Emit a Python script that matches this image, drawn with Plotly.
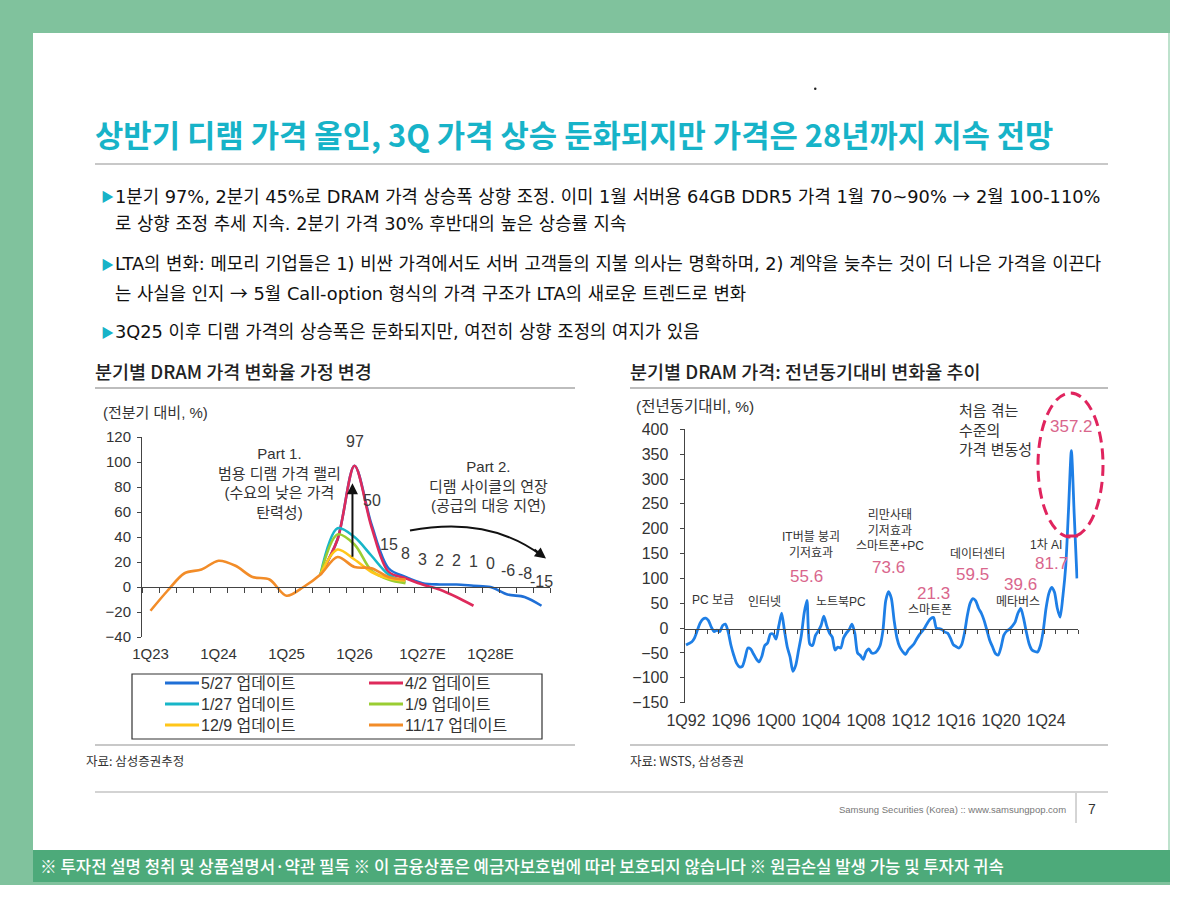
import plotly.graph_objects as go

W, H = 1200, 898
def fx(p): return p / W
def fy(p): return 1 - p / H

# ---------------- data: left chart (QoQ %) ----------------
left_quarters = ["1Q23", "2Q23", "3Q23", "4Q23", "1Q24", "2Q24", "3Q24", "4Q24",
                 "1Q25", "2Q25", "3Q25", "4Q25", "1Q26", "2Q26", "3Q26", "4Q26",
                 "1Q27E", "2Q27E", "3Q27E", "4Q27E", "1Q28E", "2Q28E", "3Q28E", "4Q28E"]
left_tick_labels = ["1Q23", "1Q24", "1Q25", "1Q26", "1Q27E", "1Q28E"]
N = None
upd_0527 = [N]*10 + [10, 38, 97, 50, 15, 8, 3, 2, 2, 1, 0, -6, -8, -15]
upd_0402 = [N]*10 + [10, 38, 97, 48, 12, 7, 2, -2, -8, -15] + [N]*4
upd_0127 = [N]*10 + [10, 47, 40, 25, 10, 4] + [N]*8
upd_0109 = [N]*10 + [10, 42, 34, 13, 6, 3] + [N]*8
upd_1209 = [N]*10 + [10, 30, 22, 12, 7, 5] + [N]*8
upd_1117 = [-19, -3, 11, 14, 21, 17, 8, 6, -7, 0, 10, 24, 16, 15, 8, 6] + [N]*8
series_names = ["5/27 업데이트", "4/2 업데이트", "1/27 업데이트", "1/9 업데이트", "12/9 업데이트", "11/17 업데이트"]
series_values = [upd_0527, upd_0402, upd_0127, upd_0109, upd_1209, upd_1117]
series_colors = ["#1F6FD6", "#DE2A5B", "#17B6C8", "#9ACD32", "#FFC61A", "#F28C28"]
label_start = 12  # data labels of the 5/27 update from 1Q26

# ---------------- data: right chart (YoY %) ----------------
right_quarters = [f"{q}Q{str(y)[2:]}" for y in range(1992, 2027) for q in range(1, 5)]
right_tick_labels = ["1Q92", "1Q96", "1Q00", "1Q04", "1Q08", "1Q12", "1Q16", "1Q20", "1Q24"]
yoy = [
    -34, -31, -28, -20, -5, 10, 18, 20,
    15, 2, -7, -4, -7, 5, 8, -8,
    -35, -55, -71, -78, -77, -60, -40, -42,
    -52, -62, -68, -56, -35, -30, -12, -12,
    -22, 5, 30, -5, -38, -58, -87, -75,
    -45, -15, 30, 55.6, -32, -35, -15, -6,
    5, 24, 5, -10, -18, -44, -38, -40,
    -20, -10, -3, 8, -10, -50, -55, -63,
    -48, -42, -50, -50, -45, -35, -5, 55,
    73.6, 60, 15, -20, -38, -47, -53, -44,
    -38, -32, -22, -13, -6, 2, 12, 19,
    21.3, 0, -1, -3, -8, -10, -20, -33,
    -37, -40, -33, -10, 25, 50, 59.5, 55,
    40, 30, 15, -5, -25, -38, -51, -54,
    -38, -14, -6, -2, 4, 12, 30, 39.6,
    20, -8, -32, -44, -47, -48, -35, -5,
    40, 70, 81.7, 72, 40, 22, 65, 125,
    240, 357.2, 230, 100,
]
peak_idx = [43, 72, 88, 102, 119, 130, 137]

KR = "Noto Sans CJK KR"
NUM = "Liberation Sans, Noto Sans CJK KR"
BODY = "DejaVu Sans, Noto Sans CJK KR"
ARROW = '<span style="font-family:Noto Sans CJK KR">→</span>'
TXT = "#333333"
PINK = "#D9668C"

fig = go.Figure()
lx = list(range(len(left_quarters)))
for name, vals, col in zip(series_names, series_values, series_colors):
    fig.add_trace(go.Scatter(x=lx, y=vals, name=name, mode="lines",
                             line=dict(color=col, width=2.6, shape="spline", smoothing=0.9),
                             connectgaps=False, showlegend=False, hoverinfo="skip",
                             xaxis="x", yaxis="y"))
rx = list(range(len(right_quarters)))
fig.add_trace(go.Scatter(x=rx, y=yoy, mode="lines", line=dict(color="#1E7FE6", width=2.8, shape="spline", smoothing=0.7),
                         showlegend=False, hoverinfo="skip", xaxis="x2", yaxis="y2"))
# carrier traces for the zero-line tick axes
fig.add_trace(go.Scatter(x=[None], y=[None], xaxis="x3", yaxis="y", showlegend=False, hoverinfo="skip"))
fig.add_trace(go.Scatter(x=[None], y=[None], xaxis="x4", yaxis="y2", showlegend=False, hoverinfo="skip"))

ann = []
def T(text, px, py, size, color=TXT, xanchor="left", family=KR, weight=None, align="left", yanchor="middle"):
    f = dict(size=size, color=color, family=family)
    if weight:
        f["weight"] = weight
    ann.append(dict(text=text, x=fx(px), y=fy(py), xref="paper", yref="paper", showarrow=False,
                    xanchor=xanchor, yanchor=yanchor, align=align, font=f))

shapes = []
def R(x0, y0, x1, y1, fill, line=None, lw=0):
    shapes.append(dict(type="rect", xref="paper", yref="paper", x0=fx(x0), x1=fx(x1), y0=fy(y1), y1=fy(y0),
                       fillcolor=fill, line=dict(width=lw, color=line or fill), layer="below"))
def L(x0, y0, x1, y1, color, w=1, dash=None, layer="above"):
    d = dict(type="line", xref="paper", yref="paper", x0=fx(x0), x1=fx(x1), y0=fy(y0), y1=fy(y1),
             line=dict(color=color, width=w), layer=layer)
    if dash:
        d["line"]["dash"] = dash
    shapes.append(d)

# slide background
R(0, 0, 1170, 885, "#80C29D")
R(33, 33, 1170, 850, "#FFFFFF")
R(33, 850, 1170, 882, "#4DAA7A")
L(1169, 33, 1169, 850, "#A8D8BC", 1.5)
shapes.append(dict(type="circle", xref="paper", yref="paper", x0=fx(814), x1=fx(816.5), y0=fy(90), y1=fy(87.5),
                   fillcolor="#222", line=dict(width=0)))

# title + bullets
T("상반기 디램 가격 올인, 3Q 가격 상승 둔화되지만 가격은 28년까지 지속 전망", 93, 133, 30.8, "#17B3C8", weight=700)
L(95, 164, 1108, 164, "#C8C8C8", 2)
bul = [
    (195, True, f"1분기 97%, 2분기 45%로 DRAM 가격 상승폭 상향 조정. 이미 1월 서버용 64GB DDR5 가격 1월 70~90% {ARROW} 2월 100-110%"),
    (223, False, "로 상향 조정 추세 지속. 2분기 가격 30% 후반대의 높은 상승률 지속"),
    (263, True, "LTA의 변화: 메모리 기업들은 1) 비싼 가격에서도 서버 고객들의 지불 의사는 명확하며, 2) 계약을 늦추는 것이 더 나은 가격을 이끈다"),
    (292, False, f"는 사실을 인지 {ARROW} 5월 Call-option 형식의 가격 구조가 LTA의 새로운 트렌드로 변화"),
    (331, True, "3Q25 이후 디램 가격의 상승폭은 둔화되지만, 여전히 상향 조정의 여지가 있음"),
]
for py, mark, txt in bul:
    if mark:
        T("▶", 99, py, 13, "#17B3C8")
    T(txt, 113, py, 17.8, "#111111", family=BODY)

# section headers
T("분기별 DRAM 가격 변화율 가정 변경", 93, 371, 18.5, "#222222", weight=500)
T("분기별 DRAM 가격: 전년동기대비 변화율 추이", 628, 371, 18.5, "#222222", weight=500)
L(95, 388, 575, 388, "#BDBDBD", 2)
L(630, 388, 1108, 388, "#BDBDBD", 2)
L(95, 745, 575, 745, "#C8C8C8", 2)
L(630, 745, 1108, 745, "#C8C8C8", 2)
T("자료: 삼성증권추정", 84, 760, 12.5, "#333333")
T("자료: WSTS, 삼성증권", 628, 760, 12.5, "#333333")

# footer
L(95, 792, 1108, 792, "#C4C4C4", 1.5)
L(1076, 793, 1076, 823, "#AAAAAA", 1)
T("Samsung Securities (Korea) :: www.samsungpop.com", 1068, 809, 9.5, "#777777", xanchor="right", family="Liberation Sans Narrow, Liberation Sans")
T("7", 1086, 809, 14, "#333333", family="Liberation Sans")
T("※ 투자전 설명 청취 및 상품설명서·약관 필독 ※ 이 금융상품은 예금자보호법에 따라 보호되지 않습니다 ※ 원금손실 발생 가능 및 투자자 귀속",
  38, 866, 16.7, "#FFFFFF", weight=500)

# ---- left chart texts ----
T("(전분기 대비, %)", 101, 412, 15, TXT, family=NUM)
T("Part 1.<br>범용 디램 가격 랠리<br>(수요의 낮은 가격<br>탄력성)", 279, 483, 15, TXT, xanchor="center", align="center", family=NUM)
T("Part 2.<br>디램 사이클의 연장<br>(공급의 대응 지연)", 488, 486, 15, TXT, xanchor="center", align="center", family=NUM)
for i in range(label_start, len(upd_0527)):
    v = upd_0527[i]
    ann.append(dict(text=str(v), x=i, y=v, xref="x", yref="y", yshift=24, showarrow=False,
                    font=dict(size=16, color="#3A3A3A", family=NUM)))
# up arrow
ann.append(dict(text="", x=11.88, y=83, ax=11.88, ay=23, xref="x", yref="y", axref="x", ayref="y",
                showarrow=True, arrowhead=2, arrowsize=1.1, arrowwidth=2, arrowcolor="#111111"))
# curved arrow
def dx(p): return (p - 150.5) / 17.0
def dy(p): return (587 - p) / 1.25
path = f"M {dx(410):.3f},{dy(530.5):.3f} C {dx(462):.3f},{dy(521):.3f} {dx(505):.3f},{dy(528):.3f} {dx(543):.3f},{dy(556.5):.3f}"
shapes.append(dict(type="path", xref="x", yref="y", path=path, line=dict(color="#111111", width=2)))
ann.append(dict(text="", x=dx(546), y=dy(558.5), ax=dx(533), ay=dy(548.5), xref="x", yref="y", axref="x", ayref="y",
                showarrow=True, arrowhead=2, arrowsize=1.1, arrowwidth=2, arrowcolor="#111111"))

# legend (manual)
R(132, 674, 542, 739, "rgba(0,0,0,0)", "#333333", 1.2)
leg_pos = [(165, 683), (369, 683), (165, 704), (369, 704), (165, 725), (369, 725)]
for (px, py), name, col in zip(leg_pos, series_names, series_colors):
    L(px, py, px + 34, py, col, 3)
    T(name, px + 34, py, 16, TXT, family=NUM)

# ---- right chart texts ----
T("(전년동기대비, %)", 634, 407, 15.5, TXT, family=NUM)
T("처음 겪는<br>수준의<br>가격 변동성", 957, 430, 15, TXT, family=NUM)
for i in peak_idx:
    v = yoy[i]
    ann.append(dict(text=f"{v}", x=i, y=v, xref="x2", yref="y2", yshift=24, showarrow=False,
                    font=dict(size=17, color=PINK, family=NUM)))
small = [
    ("PC 보급", 713, 600), ("인터넷", 764, 602), ("노트북PC", 841, 602),
    ("IT버블 붕괴<br>기저효과", 811, 545), ("리만사태<br>기저효과<br>스마트폰+PC", 890, 530),
    ("스마트폰", 930, 610), ("데이터센터", 978, 554), ("메타버스", 1018, 602), ("1차 AI", 1046, 545),
]
for t, px, py in small:
    T(t, px, py, 12, "#333333", xanchor="center", align="center", family=NUM)
shapes.append(dict(type="circle", xref="paper", yref="paper", x0=fx(1038), x1=fx(1103), y0=fy(537), y1=fy(393),
                   line=dict(color="#E0245E", width=3, dash="11px,6px")))
L(1066, 536, 1078, 536, "#E0245E", 3)

axis_col = "#444444"
tickfont_l = dict(size=15, color=TXT, family="Liberation Sans")
tickfont_r = dict(size=16, color=TXT, family="Liberation Sans")
fig.update_layout(
    width=W, height=H, margin=dict(l=0, r=0, t=0, b=0, pad=0, autoexpand=False),
    paper_bgcolor="#FFFFFF", plot_bgcolor="rgba(0,0,0,0)",
    showlegend=False, annotations=ann, shapes=shapes,
    xaxis=dict(domain=[fx(142), fx(550)], range=[-0.5, len(left_quarters) - 0.5], anchor="y",
               tickmode="array", tickvals=[left_quarters.index(t) for t in left_tick_labels], ticktext=left_tick_labels,
               ticks="", showline=False, showgrid=False, zeroline=False, tickfont=tickfont_l, ticklabelstandoff=6,
               automargin=False),
    yaxis=dict(domain=[fy(637), fy(437)], range=[-40, 120], anchor="x", tick0=-40, dtick=20,
               ticks="outside", ticklen=4, tickcolor=axis_col, showline=True, linecolor=axis_col, linewidth=1,
               showgrid=False, zeroline=False, tickfont=tickfont_l, ticklabelstandoff=3, automargin=False),
    xaxis3=dict(overlaying="x", anchor="free", position=fy(587), side="bottom",
                range=[-0.5, len(left_quarters) - 0.5], tickmode="array",
                tickvals=[i - 0.5 for i in range(len(left_quarters) + 1)], ticks="outside", ticklen=5,
                tickcolor=axis_col, showticklabels=False, showline=True, linecolor=axis_col, linewidth=1,
                showgrid=False, zeroline=False, automargin=False),
    xaxis2=dict(domain=[fx(684.6), fx(1078.4)], range=[-0.5, len(right_quarters) - 0.5], anchor="y2",
                tickmode="array", tickvals=[right_quarters.index(t) for t in right_tick_labels], ticktext=right_tick_labels,
                ticks="", showline=False, showgrid=False, zeroline=False, tickfont=tickfont_r, ticklabelstandoff=6,
                automargin=False),
    yaxis2=dict(domain=[fy(702.7), fy(429.3)], range=[-150, 400], anchor="x2", tick0=-150, dtick=50,
                ticks="outside", ticklen=4, tickcolor=axis_col, showline=True, linecolor=axis_col, linewidth=1,
                showgrid=False, zeroline=False, tickfont=tickfont_r, ticklabelstandoff=8, automargin=False),
    xaxis4=dict(overlaying="x2", anchor="free", position=fy(629.3), side="bottom",
                range=[-0.5, len(right_quarters) - 0.5], tickmode="array",
                tickvals=[i - 0.5 for i in range(0, len(right_quarters) + 1, 4)], ticks="outside", ticklen=4,
                tickcolor=axis_col, showticklabels=False, showline=True, linecolor=axis_col, linewidth=1,
                showgrid=False, zeroline=False, automargin=False),
)
fig.write_html("out.html", config={"displayModeBar": False},
               post_script="document.body.style.margin='0';document.body.style.overflow='hidden';")
